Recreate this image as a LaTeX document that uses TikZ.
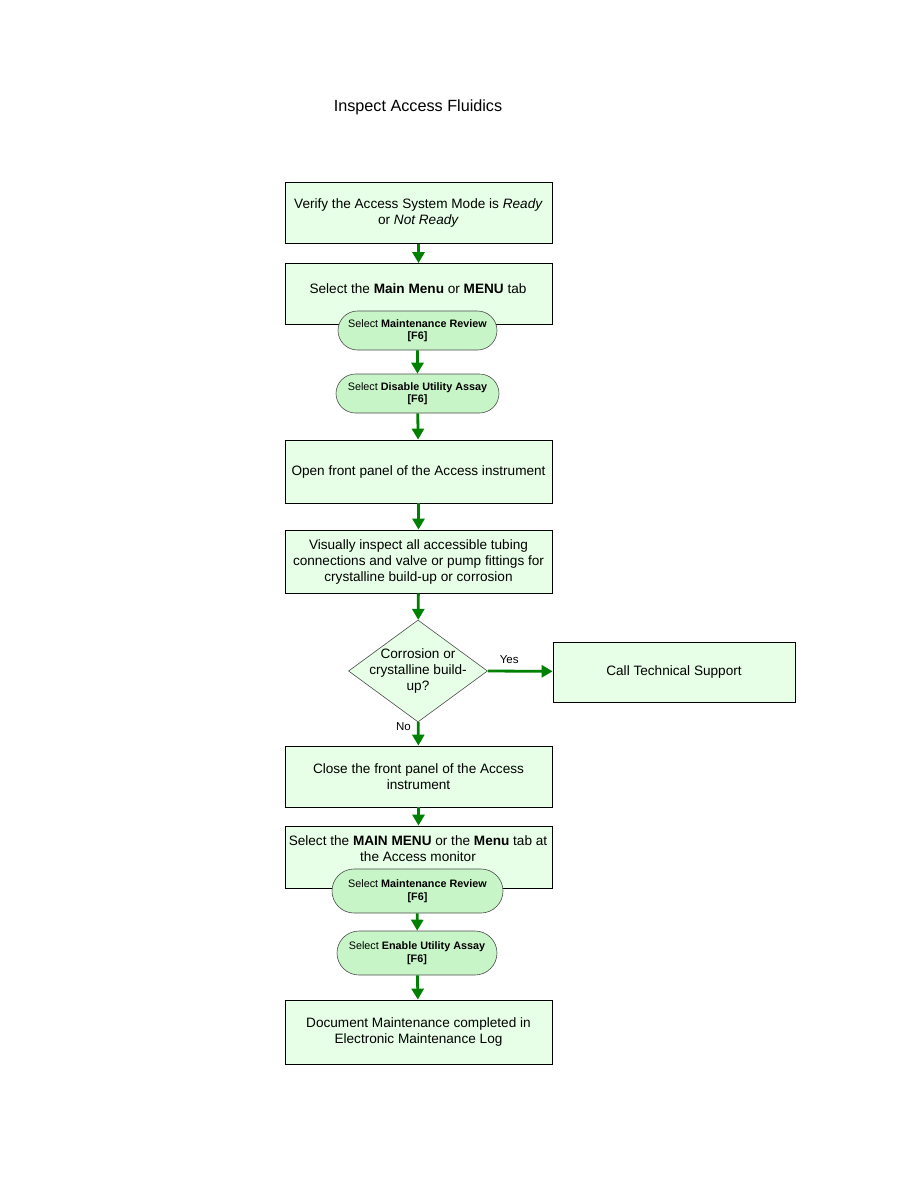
\documentclass[tikz,border=0pt]{standalone}
\usepackage{fontspec}
\setmainfont{Liberation Sans}
\usetikzlibrary{arrows.meta,positioning,shapes.geometric,shapes.misc}
\definecolor{boxfill}{RGB}{230,255,230}
\definecolor{pillfill}{RGB}{200,245,200}
\definecolor{flowgreen}{RGB}{0,128,0}
\tikzset{
  stepbox/.style={draw=black,fill=boxfill,line width=0.8pt,minimum width=267pt,minimum height=61pt,
    align=center,font=\fontsize{13.6}{16}\selectfont,inner sep=2pt},
  boxtext/.style={align=center,font=\fontsize{13.6}{16}\selectfont,inner sep=0pt},
  pill/.style={draw=black!70,fill=pillfill,rounded rectangle,line width=0.6pt,minimum height=39pt,
    align=center,font=\fontsize{10.8}{12.5}\selectfont,inner sep=2pt},
  decision/.style={draw=black!70,fill=boxfill,diamond,line width=0.6pt,minimum width=139pt,minimum height=102pt,inner sep=0pt},
  flow/.style={->,flowgreen,line width=2.8pt},
  branch/.style={text=black,font=\fontsize{11.5}{13}\selectfont,inner sep=0pt}
}
\begin{document}
\begin{tikzpicture}[x=1pt,y=-1pt,>={Triangle[length=11pt,width=12pt]}]
  \useasboundingbox (0,0) rectangle (918,1188);
  \node[font=\fontsize{16.2}{19}\selectfont] (title) at (418,107) {Inspect Access Fluidics};

  % top part
  \node[stepbox] (verify) at (418.5,213) {Verify the Access System Mode is \textit{Ready}\\ or \textit{Not Ready}};
  \node[stepbox] (mainmenu) at (418.5,294) {};
  \node[boxtext] (mainmenutext) at (418,289) {Select the \textbf{Main Menu} or \textbf{MENU} tab};
  \node[pill,minimum width=163pt] (maintreview) at (417.5,330.5) {Select \textbf{Maintenance Review}\\ \textbf{[F6]}};
  \node[pill,minimum width=167pt] (disable) at (417.5,393.5) {Select \textbf{Disable Utility Assay}\\ \textbf{[F6]}};
  \node[stepbox,minimum height=63pt] (openpanel) at (418.5,471.5) {Open front panel of the Access instrument};
  \node[stepbox,minimum height=63pt] (inspect) at (418.5,561.5) {Visually inspect all accessible tubing\\ connections and valve or pump fittings for\\ crystalline build-up or corrosion};

  % decision
  \node[decision] (corrosion) at (418,671) {};
  \node[boxtext] (corrosiontext) at (418,671) {Corrosion or\\ crystalline build-\\ up?};
  \node[stepbox,minimum width=242pt,minimum height=60pt] (support) at (674,672) {Call Technical Support};

  % bottom part
  \node[stepbox] (closepanel) at (418.5,776.5) {Close the front panel of the Access\\ instrument};
  \node[stepbox,minimum height=62pt] (selectmenu) at (418.5,857) {};
  \node[boxtext] (selectmenutext) at (418,849) {Select the \textbf{MAIN MENU} or the \textbf{Menu} tab at\\ the Access monitor};
  \node[pill,minimum width=175pt,minimum height=44pt] (maintreviewb) at (417.5,891) {Select \textbf{Maintenance Review}\\ \textbf{[F6]}};
  \node[pill,minimum width=164pt,minimum height=44pt] (enable) at (417,953) {Select \textbf{Enable Utility Assay}\\ \textbf{[F6]}};
  \node[stepbox,minimum height=64pt] (document) at (418.5,1032) {Document Maintenance completed in\\ Electronic Maintenance Log};

  % connectors
  \draw[flow] (verify) -- (mainmenu);
  \draw[flow] (maintreview) -- (disable);
  \draw[flow] (disable) -- (openpanel);
  \draw[flow] (openpanel) -- (inspect);
  \draw[flow] (inspect) -- (corrosion);
  \draw[flow] (corrosion.east) -- (support) node[branch,pos=0.33,above=6pt] (yes) {Yes};
  \draw[flow] (corrosion) -- (closepanel) node[branch,pos=0.2,left=6pt] (no) {No};
  \draw[flow] (closepanel) -- (selectmenu);
  \draw[flow] (maintreviewb) -- (enable);
  \draw[flow] (enable) -- (document);
\end{tikzpicture}
\end{document}
